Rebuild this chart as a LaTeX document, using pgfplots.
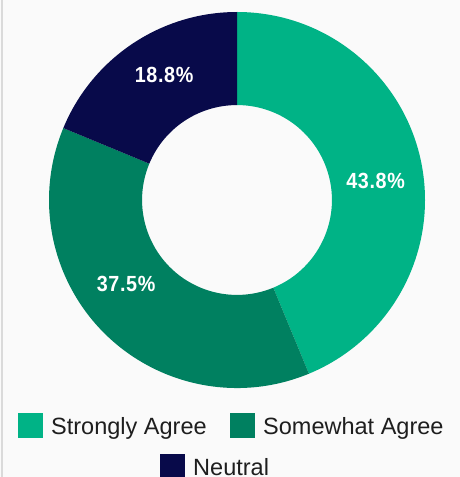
\documentclass[border=0pt]{standalone}
\usepackage{pgfplots}
\pgfplotsset{compat=1.18}
\usepackage{fontspec}
\setmainfont{Liberation Sans}
\newfontfamily\labfont[FakeStretch=0.9,LetterSpace=3]{Liberation Sans}
\definecolor{cSA}{RGB}{0,179,134}
\definecolor{cSW}{RGB}{0,128,96}
\definecolor{cNE}{RGB}{8,10,74}
\definecolor{bg}{RGB}{250,250,250}
\definecolor{edge}{RGB}{218,218,218}
% data (percent)
\def\vSA{43.75}
\def\vSW{37.5}
\def\vNE{18.75}
\pgfmathsetmacro\aA{90}
\pgfmathsetmacro\aB{90-3.6*\vSA}
\pgfmathsetmacro\aC{\aB-3.6*\vSW}
\pgfmathsetmacro\aD{\aC-3.6*\vNE}
\def\ri{0.505}
\begin{document}
\begin{tikzpicture}
\useasboundingbox (0bp,0bp) rectangle (460bp,477bp);
\fill[bg] (0bp,0bp) rectangle (460bp,477bp);
\fill[edge] (1bp,0bp) rectangle (3bp,477bp);
\begin{axis}[at={(237bp,277bp)}, anchor=center, scale only axis,
  width=376bp, height=376bp, xmin=-1, xmax=1, ymin=-1, ymax=1,
  hide axis, clip=false]
\fill[cSA] (axis cs:{cos(\aA)},{sin(\aA)}) arc[start angle=\aA, end angle=\aB, radius=188bp]
  -- (axis cs:{\ri*cos(\aB)},{\ri*sin(\aB)}) arc[start angle=\aB, end angle=\aA, radius=94.94bp] -- cycle;
\fill[cSW] (axis cs:{cos(\aB)},{sin(\aB)}) arc[start angle=\aB, end angle=\aC, radius=188bp]
  -- (axis cs:{\ri*cos(\aC)},{\ri*sin(\aC)}) arc[start angle=\aC, end angle=\aB, radius=94.94bp] -- cycle;
\fill[cNE] (axis cs:{cos(\aC)},{sin(\aC)}) arc[start angle=\aC, end angle=\aD, radius=188bp]
  -- (axis cs:{\ri*cos(\aD)},{\ri*sin(\aD)}) arc[start angle=\aD, end angle=\aC, radius=94.94bp] -- cycle;
\node[text=white, font=\labfont\bfseries\fontsize{22}{24}\selectfont] at (axis cs:0.737,0.103) {43.8\%};
\node[text=white, font=\labfont\bfseries\fontsize{22}{24}\selectfont] at (axis cs:-0.590,-0.447) {37.5\%};
\node[text=white, font=\labfont\bfseries\fontsize{22}{24}\selectfont] at (axis cs:-0.388,0.665) {18.8\%};
\end{axis}
% legend
\fill[cSA] (18bp,39bp) rectangle (43bp,64bp);
\node[anchor=base west, inner sep=0pt, font=\fontsize{23.6}{26}\selectfont, text={rgb,255:red,30;green,30;blue,30}] at (51bp,42bp) {Strongly Agree};
\fill[cSW] (230bp,39bp) rectangle (255bp,64bp);
\node[anchor=base west, inner sep=0pt, font=\fontsize{23.6}{26}\selectfont, text={rgb,255:red,30;green,30;blue,30}] at (263bp,42bp) {Somewhat Agree};
\fill[cNE] (160bp,-2bp) rectangle (185bp,23bp);
\node[anchor=base west, inner sep=0pt, font=\fontsize{23.6}{26}\selectfont, text={rgb,255:red,30;green,30;blue,30}] at (193bp,1.5bp) {Neutral};
\end{tikzpicture}
\end{document}
